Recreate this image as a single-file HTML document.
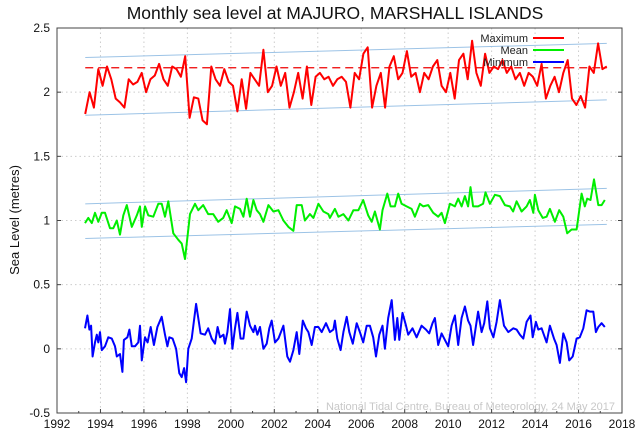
<!DOCTYPE html>
<html><head><meta charset="utf-8"><style>
body{margin:0;background:#fff;}
svg{display:block;font-family:"Liberation Sans",Arial,sans-serif;}
</style></head><body>
<svg id="chart" width="640" height="434" viewBox="0 0 640 434">
<text x="335" y="19" font-size="17.5" text-anchor="middle" fill="#111">Monthly sea level at MAJURO, MARSHALL ISLANDS</text>
<text transform="translate(19,220) rotate(-90)" font-size="13" text-anchor="middle" fill="#111">Sea Level (metres)</text>
<g id="grid"></g>
<g id="axes"></g>
<g id="series"></g>
<g id="legend"></g>
<text x="615" y="410" font-size="11" text-anchor="end" fill="#c8c8c8">National Tidal Centre, Bureau of Meteorology, 24 May 2017</text>
</svg>
<script>
const xTicks=[1992,1994,1996,1998,2000,2002,2004,2006,2008,2010,2012,2014,2016,2018];
const yTicks=[-0.5,0,0.5,1,1.5,2,2.5];
const yTickLabels=["-0.5","0","0.5","1","1.5","2","2.5"];
const maxStart=1993.3, maxStep=0.2;
const maxValues=[1.83,2.0,1.88,2.18,2.05,2.2,2.1,1.95,1.92,1.88,2.1,2.06,2.08,2.15,2.0,2.1,2.13,2.22,2.1,2.05,2.2,2.18,2.12,2.28,1.8,1.96,1.95,1.78,1.75,2.2,2.1,2.05,2.18,2.08,2.05,1.85,2.1,1.87,2.15,2.1,2.05,2.33,2.0,2.05,2.2,2.05,2.15,1.88,2.0,2.15,1.95,2.2,1.9,2.12,2.15,2.1,2.12,2.05,2.1,2.12,2.08,1.88,2.15,2.1,2.3,2.35,1.88,2.05,2.15,1.88,2.2,2.28,2.1,2.15,2.32,2.12,2.15,2.0,2.15,2.1,2.2,2.25,2.05,2.0,2.15,1.95,2.25,2.3,2.1,2.4,2.15,2.05,2.3,2.15,2.2,2.18,2.25,2.15,2.2,2.1,2.15,2.05,2.15,2.12,2.05,2.22,1.95,2.05,2.12,2.0,2.15,2.25,1.95,1.9,1.97,1.88,2.2,2.15,2.38,2.18,2.2];
const meanYears=[1993.29,1993.44,1993.60,1993.75,1993.90,1994.06,1994.21,1994.44,1994.59,1994.75,1994.90,1995.05,1995.21,1995.44,1995.67,1995.82,1995.90,1996.05,1996.20,1996.43,1996.66,1996.82,1996.97,1997.12,1997.35,1997.58,1997.74,1997.89,1998.12,1998.35,1998.50,1998.73,1998.96,1999.19,1999.42,1999.65,1999.81,2000.04,2000.19,2000.42,2000.58,2000.73,2000.88,2001.04,2001.19,2001.34,2001.50,2001.73,2001.96,2002.19,2002.42,2002.65,2002.88,2003.03,2003.26,2003.41,2003.64,2003.80,2004.03,2004.26,2004.49,2004.56,2004.79,2004.95,2005.18,2005.41,2005.64,2005.87,2006.09,2006.32,2006.48,2006.63,2006.86,2006.98,2007.2,2007.35,2007.55,2007.7,2007.86,2008.09,2008.32,2008.47,2008.70,2008.85,2009.08,2009.31,2009.54,2009.70,2009.85,2010.08,2010.31,2010.46,2010.62,2010.77,2010.92,2011.03,2011.15,2011.38,2011.61,2011.72,2011.92,2012.15,2012.38,2012.61,2012.84,2012.99,2013.15,2013.38,2013.61,2013.76,2013.92,2013.99,2014.15,2014.35,2014.53,2014.68,2014.91,2015.11,2015.30,2015.48,2015.68,2015.91,2016.14,2016.29,2016.40,2016.55,2016.71,2016.91,2017.06,2017.21];
const meanValues=[0.98,1.02,0.98,1.06,0.99,1.06,1.06,0.94,0.94,1.00,0.89,1.04,1.12,0.95,1.04,1.11,0.95,1.11,1.04,1.03,1.13,1.13,1.03,1.15,0.90,0.85,0.82,0.70,1.05,1.13,1.08,1.12,1.05,1.05,0.99,1.02,1.08,0.98,1.11,1.09,1.03,1.17,1.03,1.16,1.08,1.05,0.99,1.12,1.07,1.08,1.00,0.95,0.92,1.12,1.12,1.00,1.05,1.02,1.13,1.07,1.05,1.02,1.09,1.03,1.05,1.00,1.08,1.08,1.16,1.04,0.99,1.07,0.93,1.08,1.21,1.11,1.11,1.21,1.13,1.11,1.09,1.03,1.13,1.11,1.12,1.06,1.03,1.06,0.98,1.13,1.11,1.17,1.11,1.19,1.11,1.26,1.11,1.11,1.13,1.22,1.13,1.2,1.19,1.12,1.11,1.07,1.15,1.07,1.11,1.16,1.06,1.2,1.08,1.02,1.03,1.09,0.99,1.08,1.03,0.9,0.93,0.93,1.21,1.11,1.17,1.16,1.32,1.12,1.12,1.16];
const minYears=[1993.29,1993.40,1993.49,1993.57,1993.64,1993.75,1993.83,1993.90,1993.98,1994.06,1994.21,1994.36,1994.52,1994.67,1994.75,1994.90,1995.01,1995.08,1995.24,1995.33,1995.44,1995.59,1995.74,1995.82,1995.90,1996.05,1996.17,1996.31,1996.46,1996.62,1996.82,1996.97,1997.08,1997.17,1997.32,1997.48,1997.63,1997.74,1997.85,1997.94,1998.04,1998.20,1998.40,1998.61,1998.81,1998.96,1999.12,1999.27,1999.39,1999.50,1999.66,1999.73,1999.84,1999.96,2000.07,2000.19,2000.30,2000.45,2000.58,2000.73,2000.88,2001.04,2001.11,2001.22,2001.34,2001.50,2001.65,2001.77,2001.88,2002.03,2002.19,2002.42,2002.60,2002.72,2002.88,2003.03,2003.15,2003.31,2003.46,2003.57,2003.72,2003.87,2004.03,2004.18,2004.38,2004.56,2004.72,2004.79,2004.90,2005.05,2005.18,2005.33,2005.45,2005.61,2005.79,2005.94,2006.09,2006.25,2006.40,2006.55,2006.68,2006.83,2006.98,2007.09,2007.24,2007.40,2007.55,2007.66,2007.75,2007.90,2008.06,2008.16,2008.36,2008.55,2008.78,2008.98,2009.13,2009.28,2009.39,2009.54,2009.70,2009.85,2010.00,2010.16,2010.31,2010.46,2010.62,2010.77,2010.92,2011.03,2011.15,2011.38,2011.54,2011.66,2011.80,2011.92,2012.08,2012.23,2012.38,2012.57,2012.77,2013.00,2013.15,2013.30,2013.46,2013.61,2013.79,2013.89,2014.04,2014.15,2014.30,2014.53,2014.68,2014.87,2014.99,2015.14,2015.30,2015.45,2015.57,2015.73,2015.91,2016.06,2016.22,2016.37,2016.52,2016.68,2016.80,2016.91,2017.06,2017.21];
const minValues=[0.16,0.26,0.15,0.18,-0.06,0.05,0.11,0.05,0.13,-0.01,0.02,0.09,0.08,0.02,-0.06,-0.04,-0.18,0.07,0.09,0.15,0.02,0.02,0.05,0.18,-0.09,0.09,0.05,0.17,0.03,0.17,0.25,0.11,0.02,0.09,0.08,0.0,-0.19,-0.22,-0.15,-0.26,0.0,0.08,0.35,0.12,0.11,0.16,0.08,0.04,0.17,0.09,0.11,0.04,0.13,0.31,0.0,0.16,0.28,0.08,0.08,0.29,0.18,0.13,0.18,0.11,0.17,0.0,0.04,0.16,0.22,0.05,0.08,0.18,-0.06,-0.1,-0.01,0.13,-0.04,0.22,0.16,0.13,0.03,0.17,0.17,0.13,0.20,0.13,0.15,0.22,0.08,-0.01,0.13,0.25,0.13,0.04,0.20,0.13,0.05,0.18,0.18,0.09,-0.06,0.11,0.18,0.0,0.24,0.38,0.07,0.24,0.07,0.28,0.18,0.11,0.16,0.09,0.18,0.15,0.12,0.20,0.24,0.03,0.12,0.07,0.02,0.18,0.26,0.03,0.24,0.33,0.22,0.18,0.03,0.29,0.13,0.20,0.37,0.16,0.09,0.21,0.38,0.18,0.13,0.16,0.15,0.11,0.08,0.21,0.26,0.09,0.21,0.15,0.16,0.05,0.18,0.08,0.03,-0.11,0.12,0.05,-0.09,-0.06,0.08,0.09,0.16,0.30,0.29,0.29,0.13,0.17,0.20,0.17];
const trendYears=[1993.3,2017.3];
const maxUpper=[2.27,2.38], maxLower=[1.82,1.94], maxMeanLevel=[2.19,2.19];
const meanUpper=[1.13,1.25], meanLower=[0.86,0.97];

const NS="http://www.w3.org/2000/svg";
const L=57,R=622,T=28,B=413;
const xs=y=>L+(y-1992)/(2018-1992)*(R-L);
const ys=v=>B-(v+0.5)/3*(B-T);
function mk(tag,attrs,parent){const e=document.createElementNS(NS,tag);for(const k in attrs)e.setAttribute(k,attrs[k]);parent.appendChild(e);return e;}
const grid=document.getElementById('grid'),axes=document.getElementById('axes'),series=document.getElementById('series'),legend=document.getElementById('legend');

xTicks.forEach(t=>{const x=xs(t);
 if(t>1992&&t<2018){const g=mk('line',{x1:x,x2:x,y1:T,y2:B,stroke:'#ccc','stroke-dasharray':'1.5,3'},grid);
 
 }
 const tk=mk('line',{x1:x,x2:x,y1:B,y2:B-4,stroke:'#444'},axes);
 
 
 const lb=mk('text',{x:x,y:B+15,'font-size':12,'text-anchor':'middle',fill:'#111'},axes);lb.textContent=t;
 
 
});
for(let y=1993;y<2018;y+=2){const tk=mk('line',{x1:xs(y),x2:xs(y),y1:B,y2:B-2,stroke:'#444'},axes);
 
 }
yTicks.forEach((t,i)=>{const y=ys(t);
 if(i>0&&i<yTicks.length-1){const g=mk('line',{x1:L,x2:R,y1:y,y2:y,stroke:'#ccc','stroke-dasharray':'1.5,3'},grid);
 
 }
 const tk=mk('line',{x1:L,x2:L+4,y1:y,y2:y,stroke:'#444'},axes);
 
 
 const tk2=mk('line',{x1:R,x2:R-4,y1:y,y2:y,stroke:'#444'},axes);
 
 
 const lb=mk('text',{x:L-7,y:y+4,'font-size':12,'text-anchor':'end',fill:'#111'},axes);lb.textContent=yTickLabels[i];
 
 
});
const frame=mk('rect',{x:L,y:T,width:R-L,height:B-T,fill:'none',stroke:'#444','stroke-width':1},axes);



function trend(vals,name,extra){const a={x1:xs(trendYears[0]),x2:xs(trendYears[1]),y1:ys(vals[0]),y2:ys(vals[1]),stroke:'#9cc3e6','stroke-width':1};Object.assign(a,extra||{});const l=mk('line',a,series);
 
 return l;}
trend(maxUpper,'max-upper-trend');trend(maxLower,'max-lower-trend');
trend(meanUpper,'mean-upper-trend');trend(meanLower,'mean-lower-trend');
trend(maxMeanLevel,'max-mean-level',{stroke:'#e00','stroke-dasharray':'8,5','stroke-width':1.2});

function poly(yrs,vals,color,name){const pts=vals.map((v,i)=>xs(yrs[i]).toFixed(1)+','+ys(v).toFixed(1)).join(' ');
 const p=mk('polyline',{points:pts,fill:'none',stroke:color,'stroke-width':2,'stroke-linejoin':'round'},series);
 
 }
const maxYears=maxValues.map((v,i)=>maxStart+i*maxStep);
poly(maxYears,maxValues,'#ff0000','maximum-series');
poly(meanYears,meanValues,'#00ee00','mean-series');
poly(minYears,minValues,'#0000ff','minimum-series');

const leg=[["Maximum","#ff0000",38],["Mean","#00ee00",50],["Minimum","#0000ff",62]];
leg.forEach(e=>{const t=mk('text',{x:528,y:e[2]+4,'font-size':11,'text-anchor':'end',fill:'#222'},legend);t.textContent=e[0];
 
 
 const l=mk('line',{x1:533,x2:564,y1:e[2],y2:e[2],stroke:e[1],'stroke-width':2},legend);
 
 });
</script>
</body></html>
